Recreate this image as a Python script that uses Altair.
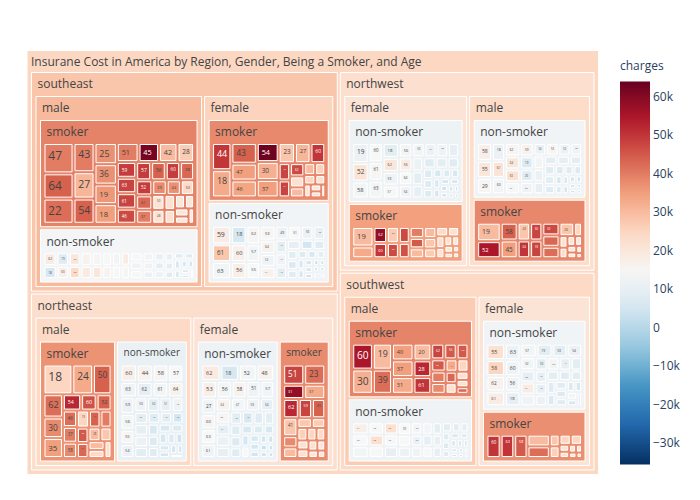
import altair as alt
import pandas as pd

TITLE = "Insurane Cost in America by Region, Gender, Being a Smoker, and Age"

# Leaves: (age, sum of charges in k, mean charges in k)
SE_M_S = [(47,150,40),(64,125,44),(22,124,42),(43,101,40),(27,91,31),(54,87,44),(25,78,37),(36,75,37),(19,72,36),(18,72,35),
          (51,68,40),(45,64,62),(42,58,30),(28,52,27),(59,50,49),(63,49,48),(61,49,48),(46,48,47),(57,45,49),(56,44,44),
          (60,43,49),(38,42,43),(52,40,49),(41,38,43),(37,37,40),(39,35,38),(44,34,37),(53,32,24),(50,30,21),(48,28,21),
          (33,26,22),(35,24,22),(31,22,20),(40,20,20),(34,18,20),(26,16,20),(20,14,19)]
SE_M_N = [(62,45,18),(18,43,6),(19,42,8),(60,41,17),(59,40,20),(63,39,24),(52,38,16),(53,37,19),(50,36,15),(55,35,20),
          (47,33,14),(56,32,16),(43,31,13),(49,31,14),(57,30,18),(64,30,15),(48,29,14),(46,28,12),(45,28,14),(54,27,13),
          (51,26,12),(44,25,11),(39,24,10),(37,23,9),(41,23,11),(42,22,10),(40,21,9),(38,20,8),(36,19,8),(35,18,8),
          (34,17,6),(33,16,7),(32,15,6),(31,14,5),(30,13,6),(29,12,5),(28,11,5)]
SE_F_S = [(44,101,50),(18,101,33),(43,101,44),(47,82,35),(46,82,34),(54,80,63),(30,75,32),(37,73,35),(23,63,28),(27,60,31),
          (60,57,50),(55,38,48),(51,37,48),(62,36,47),(20,30,22),(26,27,30),(31,25,30),(45,23,26),(29,20,25),(52,18,22),
          (58,16,21),(38,14,20),(39,12,22),(49,10,20)]
SE_F_N = [(59,68,18),(61,65,28),(63,63,13),(18,55,6),(60,53,17),(56,51,17),(62,49,15),(57,47,13),(55,45,14),(53,43,15),
          (64,40,16),(52,38,12),(54,36,16),(49,35,11),(51,34,14),(50,33,11),(48,32,10),(46,30,9),(47,29,12),(45,28,9),
          (44,27,10),(19,25,5),(42,23,8),(43,21,9),(40,20,7),(41,19,8),(39,17,7),(37,16,6),(38,15,9),(36,14,6),
          (34,13,5),(35,12,6),(33,11,5),(31,10,4),(32,9,4),(30,8,4),(28,7,4),(29,7,4),(26,6,3),(27,6,3),(24,5,3)]
NE_M_S = [(18,159,25),(24,114,33),(50,102,44),(62,84,42),(30,74,38),(35,72,35),(54,55,52),(60,47,46),(52,45,44),(46,43,42),
          (37,41,40),(58,40,38),(19,38,25),(43,36,44),(44,35,40),(56,33,45),(61,32,43),(28,30,30),(27,28,28),(42,26,30),
          (40,24,24),(22,22,22)]
NE_M_N = [(60,53,17),(44,51,16),(58,50,15),(57,49,14),(63,47,12),(62,46,10),(61,45,13),(64,44,16),(59,43,11),(56,41,13),
          (55,37,15),(54,36,11),(53,35,12),(52,34,9),(51,33,10),(49,32,12),(48,31,9),(47,30,10),(46,29,11),(45,28,9),
          (43,27,8),(42,26,9),(18,25,5),(19,24,6),(41,23,7),(40,22,8),(31,21,6),(35,20,7),(38,19,6),(39,18,7),
          (24,17,4),(36,15,6),(37,14,5),(34,13,5),(26,11,4),(33,10,5)]
NE_F_N = [(62,58,19),(18,56,6),(52,54,13),(48,53,16),(53,50,17),(56,48,13),(58,47,16),(51,45,12),(57,44,13),(27,43,12),
          (60,40,15),(63,39,14),(61,38,12),(64,37,16),(47,36,13),(59,35,12),(54,34,10),(55,33,15),(49,32,10),(50,31,11),
          (46,30,10),(45,29,9),(19,28,6),(44,26,8),(43,25,9),(42,24,8),(41,23,7),(40,22,8),(38,21,6),(39,20,7),
          (36,19,6),(34,18,5),(35,17,14),(37,16,6),(31,15,5),(33,14,5),(32,13,5),(30,12,4),(20,11,3),(28,10,4),
          (29,9,4),(26,8,4)]
NE_F_S = [(51,85,48),(23,85,42),(31,60,58),(37,60,33),(62,60,52),(59,51,48),(45,51,44),(41,51,28),(63,32,38),(52,30,30),
          (26,28,28),(47,26,27),(44,25,26),(33,23,25),(39,22,24),(21,20,22),(27,19,22),(43,18,22),(19,16,20),(20,14,20),
          (30,11,20)]
NW_F_N = [(19,66,11),(52,61,21),(58,56,13),(60,54,14),(61,52,15),(63,50,13),(18,48,9),(62,46,20),(59,44,12),(57,42,14),
          (56,39,13),(55,38,18),(64,37,14),(54,36,12),(53,35,13),(51,34,11),(50,33,12),(49,32,10),(48,31,11),(47,30,9),
          (46,29,10),(45,28,8),(44,27,9),(43,26,8),(23,21,7),(41,20,8),(42,19,7),(40,18,6),(39,17,7),(37,16,6),
          (38,15,6),(36,14,5),(34,13,5),(35,12,5),(33,11,4),(31,10,5),(32,9,4),(30,8,4),(29,7,4),(28,6,3)]
NW_F_S = [(19,105,30),(18,63,33),(62,55,58),(60,52,50),(55,48,27),(56,46,47),(64,44,47),(61,42,46),(58,40,40),(57,38,45),
          (22,36,30),(48,34,30),(45,32,28),(44,30,27),(51,28,24),(47,26,22),(52,24,23),(42,21,21),(38,19,22),(20,17,20),
          (27,15,20),(31,12,21),(26,10,20),(33,9,20)]
NW_M_N = [(58,55,17),(55,52,20),(29,50,15),(18,48,11),(61,46,21),(60,44,13),(62,42,15),(64,41,20),(63,40,22),(57,38,14),
          (59,37,16),(19,36,7),(20,35,8),(56,34,12),(54,33,11),(53,32,15),(52,31,11),(50,30,12),(51,29,13),(49,28,11),
          (48,27,10),(47,26,9),(46,25,10),(45,24,9),(44,23,8),(43,22,9),(42,21,8),(41,20,7),(39,19,8),(38,18,7),
          (40,15,6),(36,14,7),(35,13,6),(34,12,5),(37,11,5),(28,10,4),(33,9,5),(31,8,4),(32,7,4),(30,6,4)]
NW_M_S = [(19,104,30),(52,96,55),(58,72,44),(45,72,35),(43,53,28),(64,53,50),(60,52,48),(59,52,48),(63,52,47),(61,47,43),
          (54,47,42),(26,47,28),(42,25,25),(33,22,22),(39,20,23),(23,18,21),(22,16,20),(28,14,21),(31,12,20),(30,10,20),
          (36,7,20)]
SW_M_S = [(60,110,55),(30,103,32),(19,102,30),(39,95,42),(40,74,35),(37,74,35),(31,74,33),(20,61,30),(28,61,52),(61,61,50),
          (62,42,48),(55,40,45),(63,38,45),(52,36,45),(56,34,40),(47,32,38),(44,30,33),(54,28,25),(57,26,43),(23,24,22),
          (27,20,22),(38,18,22),(50,16,43)]
SW_M_N = [(61,47,17),(62,46,14),(63,45,13),(60,44,14),(58,43,22),(64,42,14),(57,41,22),(56,40,14),(18,39,10),(59,38,14),
          (55,35,14),(54,34,11),(53,33,13),(52,32,11),(19,31,12),(51,30,13),(50,29,10),(49,28,14),(48,27,9),(47,26,10),
          (46,25,10),(45,24,9),(44,20,8),(43,19,9),(42,18,8),(40,17,7),(41,16,8),(37,15,6),(39,14,7),(38,13,6),
          (36,12,6),(35,11,5),(34,10,5),(33,9,5),(32,8,4),(31,7,4),(30,6,4),(28,5,3)]
SW_F_N = [(55,60,22),(58,58,25),(62,56,16),(61,54,18),(63,50,11),(60,48,12),(56,46,12),(18,45,10),(57,43,13),(19,42,9),
          (53,40,9),(54,39,11),(52,38,13),(50,36,10),(51,35,18),(49,34,12),(33,32,9),(59,31,13),(44,30,10),(39,29,9),
          (46,28,10),(47,27,10),(48,26,11),(45,25,9),(43,24,8),(41,23,9),(42,22,8),(40,21,7),(37,20,8),(38,19,7),
          (35,18,8),(36,17,7),(34,16,6),(64,15,13),(31,14,6),(32,13,6)]
SW_F_S = [(60,99,50),(63,95,50),(58,93,45),(22,78,30),(55,78,42),(31,34,28),(36,34,26),(28,34,25),(41,34,25),(43,20,22),
          (42,18,22),(24,16,21),(47,14,20),(30,12,20),(20,9,20)]

HIERARCHY = [
    ("southeast", [("male", [("smoker", SE_M_S), ("non-smoker", SE_M_N)]),
                   ("female", [("smoker", SE_F_S), ("non-smoker", SE_F_N)])]),
    ("northeast", [("male", [("smoker", NE_M_S), ("non-smoker", NE_M_N)]),
                   ("female", [("non-smoker", NE_F_N), ("smoker", NE_F_S)])]),
    ("northwest", [("female", [("non-smoker", NW_F_N), ("smoker", NW_F_S)]),
                   ("male", [("non-smoker", NW_M_N), ("smoker", NW_M_S)])]),
    ("southwest", [("male", [("smoker", SW_M_S), ("non-smoker", SW_M_N)]),
                   ("female", [("non-smoker", SW_F_N), ("smoker", SW_F_S)])]),
]

COLORS = ["#053061", "#2166ac", "#4393c3", "#92c5de", "#d1e5f0", "#f7f7f7",
          "#fddbc7", "#f4a582", "#d6604d", "#b2182b", "#67001f"]
CMIN, CMAX = -35600.0, 64000.0
TICKS = [-30000, -20000, -10000, 0, 10000, 20000, 30000, 40000, 50000, 60000]

# layout frame (page pixels)
ROOT_BOX = (27.0, 50.5, 598.5, 474.5)
PAD, GAP, TOP_ROOT, TOP = 4.5, 3.0, 22.0, 24.0


def leaf(t):
    return {"label": str(t[0]), "value": t[1] * 1000.0, "color": t[2] * 1000.0, "children": []}


def parent(label, kids):
    v = sum(k["value"] for k in kids)
    c = sum(k["value"] * k["color"] for k in kids) / v
    return {"label": label, "value": v, "color": c, "children": kids}


root = parent(TITLE, [
    parent(reg, [parent(sex, [parent(sm, [leaf(t) for t in leaves]) for sm, leaves in sexes])
                 for sex, sexes in regs])
    for reg, regs in HIERARCHY])


def squarify(nodes, x0, y0, x1, y1):
    value = sum(n["value"] for n in nodes)
    i0, n = 0, len(nodes)
    while i0 < n:
        dx, dy = max(x1 - x0, 1e-6), max(y1 - y0, 1e-6)
        i1 = i0
        sv = nodes[i1]["value"]
        i1 += 1
        mn = mx = sv
        alpha = max(dy / dx, dx / dy) / value
        beta = sv * sv * alpha
        best = max(mx / beta, beta / mn)
        while i1 < n:
            nv = nodes[i1]["value"]
            s2 = sv + nv
            mn2, mx2 = min(mn, nv), max(mx, nv)
            beta = s2 * s2 * alpha
            r = max(mx2 / beta, beta / mn2)
            if r > best:
                break
            sv, mn, mx, best = s2, mn2, mx2, r
            i1 += 1
        row = nodes[i0:i1]
        if dx < dy:
            yy = y0 + dy * sv / value if i1 < n else y1
            xx = x0
            for nd in row:
                w = (x1 - x0) * nd["value"] / sv
                nd["box"] = (xx, y0, xx + w, yy)
                xx += w
            y0 = yy
        else:
            xx = x0 + dx * sv / value if i1 < n else x1
            yy = y0
            for nd in row:
                h = (y1 - y0) * nd["value"] / sv
                nd["box"] = (x0, yy, xx, yy + h)
                yy += h
            x0 = xx
        value -= sv
        i0 = i1


def position(node, box, depth):
    node["rect"] = box
    node["depth"] = depth
    if node["children"]:
        x0, y0, x1, y1 = box
        p = GAP / 2
        top = TOP_ROOT if depth == 0 else TOP
        kids = sorted(node["children"], key=lambda k: -k["value"])
        squarify(kids, x0 + PAD - p, y0 + top - p, x1 - PAD + p, y1 - PAD + p)
        for k in kids:
            a, b, c, d = k["box"]
            position(k, (a + p, b + p, max(c - p, a + p), max(d - p, b + p)), depth + 1)


position(root, ROOT_BOX, 0)

CW = {'a': .556, 'b': .613, 'c': .479, 'd': .613, 'e': .561, 'f': .336, 'g': .547, 'h': .613, 'i': .258,
      'j': .258, 'k': .539, 'l': .258, 'm': .929, 'n': .613, 'o': .601, 'p': .613, 'q': .613, 'r': .408,
      's': .479, 't': .352, 'u': .613, 'v': .500, 'w': .774, 'x': .521, 'y': .500, 'z': .468, '-': .322,
      ' ': .260, ',': .245}


def text_w(s, fs):
    return sum(CW.get(ch, .572 if ch.isdigit() else .62) for ch in s) * fs


def hex2rgb(h):
    return tuple(int(h[i:i + 2], 16) for i in (1, 3, 5))


def text_color(c):
    t = min(max((c - CMIN) / (CMAX - CMIN), 0), 1) * 10
    i = min(int(t), 9)
    f = t - i
    a, b = hex2rgb(COLORS[i]), hex2rgb(COLORS[i + 1])
    r, g, bl = [a[k] + (b[k] - a[k]) * f for k in range(3)]
    return "#444444" if (r * 299 + g * 587 + bl * 114) / 1000 >= 128 else "#ffffff"


rects, texts = [], []


def collect(node):
    x0, y0, x1, y1 = node["rect"]
    w, h = x1 - x0, y1 - y0
    rects.append({"x0": x0, "x1": x1, "y0": y0, "y1": y1, "c": node["color"], "depth": node["depth"]})
    if node["children"]:
        fs = 12 * min(1.0, (w - 12) / text_w(node["label"], 12))
        if fs > 2:
            texts.append({"tx": x0 + (4 if node["depth"] == 0 else 6), "ty": y0 + 3.8 + fs,
                          "label": node["label"], "fs": fs, "tc": "#444444"})
        for k in node["children"]:
            collect(k)
    else:
        fs = 12 * min(1.0, (w - 6) / text_w(node["label"], 12), (h - 6) / 16.5)
        if fs >= 2:
            texts.append({"tx": x0 + 3.3, "ty": y0 + 3 + 1.03 * fs, "label": node["label"],
                          "fs": fs, "tc": text_color(node["color"])})


collect(root)
rect_df = pd.DataFrame(rects).sort_values("depth", kind="stable")
text_df = pd.DataFrame(texts)

xs = alt.Scale(domain=[8, 692], nice=False, zero=False)
ys = alt.Scale(domain=[8, 492], nice=False, zero=False, reverse=True)
stops = [CMIN + i * (CMAX - CMIN) / 10 for i in range(11)]

label_expr = ("datum.value < 0 ? '\u2212' + format(-datum.value / 1000, 'd') + 'k' : "
              "(datum.value == 0 ? '0' : format(datum.value / 1000, 'd') + 'k')")

rect_layer = alt.Chart(rect_df).mark_rect(stroke="white", strokeWidth=1).encode(
    x=alt.X("x0:Q", scale=xs, axis=None),
    x2="x1:Q",
    y=alt.Y("y0:Q", scale=ys, axis=None),
    y2="y1:Q",
    color=alt.Color("c:Q", scale=alt.Scale(domain=stops, range=COLORS, interpolate="rgb"),
                    legend=alt.Legend(title="charges", orient="none", legendX=612, legendY=53,
                                      direction="vertical", gradientLength=383, gradientThickness=30,
                                      gradientStrokeWidth=0, values=TICKS, labelExpr=label_expr,
                                      titleFont="Open Sans", titleFontSize=12, titleFontWeight="normal",
                                      titleColor="#2a3f5f", labelFont="Open Sans", labelFontSize=12,
                                      labelColor="#2a3f5f", labelOffset=3, titlePadding=8.5, padding=0,
                                      labelOverlap=False)),
)

text_layer = alt.Chart(text_df).mark_text(align="left", baseline="alphabetic", font="Open Sans").encode(
    x=alt.X("tx:Q", scale=xs, axis=None),
    y=alt.Y("ty:Q", scale=ys, axis=None),
    text="label:N",
    size=alt.Size("fs:Q", scale=None, legend=None),
    fill=alt.Fill("tc:N", scale=None, legend=None),
)

chart = alt.layer(rect_layer, text_layer).properties(
    width=684, height=484, padding=0, autosize=alt.AutoSizeParams(type="none"),
    background="white",
).configure_view(stroke=None)

chart.save("out.html", embed_options={"renderer": "svg", "actions": False})
